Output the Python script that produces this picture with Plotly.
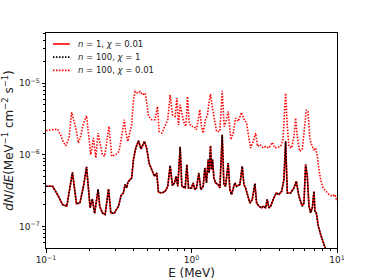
import plotly.graph_objects as go

# Energy (MeV) and dN/dE (in units of 1e-7 MeV^-1 cm^-2 s^-1) for lower curve
E_low = [0.100, 0.111, 0.120, 0.130, 0.139, 0.152, 0.162, 0.171, 0.181, 0.190,
         0.201, 0.208, 0.216, 0.228, 0.234, 0.244, 0.255, 0.269, 0.279, 0.294,
         0.315, 0.328, 0.340, 0.350, 0.359, 0.365, 0.378, 0.388, 0.399, 0.414,
         0.432, 0.450, 0.475, 0.493, 0.511, 0.533, 0.556, 0.577, 0.593, 0.625,
         0.659, 0.687, 0.713, 0.740, 0.764, 0.784, 0.805, 0.836, 0.858, 0.905,
         0.929, 0.954, 1.000, 1.027, 1.054, 1.082, 1.123, 1.159, 1.203, 1.235,
         1.268, 1.302, 1.323, 1.351, 1.373, 1.395, 1.425, 1.463, 1.526, 1.567,
         1.626, 1.669, 1.714, 1.788, 1.835, 1.884, 1.987, 2.040, 2.150, 2.232,
         2.292, 2.353, 2.455, 2.520, 2.615, 2.728, 2.801, 2.907, 3.032, 3.112,
         3.230, 3.316, 3.405, 3.496, 3.685, 3.824, 3.989, 4.161, 4.318, 4.435,
         4.554, 4.800, 5.060, 5.250, 5.476, 5.773, 5.927, 6.087, 6.250, 6.418,
         6.590, 6.766, 6.946, 7.058, 7.208, 7.440, 7.721, 8.012, 8.356, 9.0, 10.0]
V_low = [3.64, 3.64, 2.79, 2.02, 1.92, 5.70, 2.07, 2.13, 3.64, 6.80,
         1.82, 2.43, 1.52, 3.30, 1.92, 1.55, 1.47, 3.34, 1.55, 1.52,
         1.92, 2.70, 2.94, 3.85, 3.45, 4.14, 4.51, 4.76, 8.57, 12.45,
         15.7, 12.1, 15.4, 12.1, 7.69, 6.22, 5.02, 5.58, 3.01, 2.94,
         3.10, 3.64, 7.07, 3.72, 4.06, 5.02, 3.64, 12.9, 3.64, 3.45,
         7.30, 3.45, 3.45, 4.06, 3.27, 3.45, 5.58, 3.27, 3.64, 6.56,
         4.06, 8.57, 5.58, 13.4, 6.22, 8.57, 4.76, 4.06, 3.85, 3.45,
         19.1, 3.85, 3.64, 7.69, 3.27, 2.79, 4.06, 3.64, 3.85, 6.92,
         3.85, 3.45, 2.64, 2.13, 2.38, 3.97, 2.13, 1.92, 1.82, 1.92,
         1.82, 2.38, 1.82, 1.92, 2.51, 2.94, 2.79, 3.10, 4.51, 15.4,
         2.94, 2.94, 3.45, 4.28, 2.64, 1.92, 2.13, 7.30, 5.02, 1.92,
         1.55, 1.82, 3.10, 1.63, 1.55, 1.01, 0.774, 0.593, 0.479, 0.33, 0.22]

# Upper curve (n=100, chi=0.01)
E_up = [0.100, 0.102, 0.120, 0.126, 0.132, 0.137, 0.144, 0.150, 0.156, 0.162,
        0.167, 0.173, 0.181, 0.190, 0.198, 0.203, 0.212, 0.220, 0.228, 0.244,
        0.253, 0.271, 0.283, 0.302, 0.318, 0.332, 0.346, 0.353, 0.365, 0.378,
        0.388, 0.399, 0.410, 0.427, 0.444, 0.460, 0.480, 0.493, 0.506, 0.533,
        0.562, 0.584, 0.599, 0.625, 0.659, 0.687, 0.713, 0.740, 0.772, 0.793,
        0.814, 0.836, 0.881, 0.914, 0.939, 0.964, 1.000, 1.043, 1.082, 1.112,
        1.141, 1.172, 1.203, 1.248, 1.289, 1.316, 1.351, 1.388, 1.432, 1.486,
        1.567, 1.626, 1.678, 1.741, 1.788, 1.865, 1.935, 2.008, 2.095, 2.208,
        2.304, 2.390, 2.480, 2.547, 2.657, 2.757, 2.846, 2.953, 3.112, 3.230,
        3.405, 3.589, 3.745, 3.948, 4.097, 4.251, 4.342, 4.435, 4.554, 4.674,
        4.876, 5.060, 5.195, 5.333, 5.534, 5.773, 5.991, 6.152, 6.317, 6.519,
        6.766, 6.946, 7.132, 7.324, 7.517, 7.721, 8.012, 8.356, 8.810, 9.288,
        9.687, 10.0]
V_up = [21.9, 21.9, 22.9, 19.1, 14.9, 13.4, 17.2, 39.1, 29.3, 21.2,
        14.6, 18.1, 27.8, 35.1, 16.3, 10.05, 17.2, 9.04, 20.1, 10.05,
        9.53, 24.9, 9.53, 10.05, 11.2, 18.1, 30.9, 21.2, 15.4, 21.2,
        26.3, 58.6, 76.6, 72.6, 76.6, 68.8, 72.6, 52.7, 34.4, 30.9,
        30.9, 47.3, 21.2, 20.1, 24.9, 30.9, 68.8, 36.2, 34.4, 61.8,
        26.0, 50.0, 29.3, 24.9, 65.2, 27.8, 24.9, 24.9, 22.4, 30.9,
        42.5, 24.9, 20.1, 30.9, 36.2, 52.7, 70.3, 47.3, 32.6, 21.2,
        21.2, 78.2, 24.9, 30.9, 40.3, 16.3, 20.1, 32.6, 29.3, 39.1,
        30.9, 27.8, 17.2, 12.45, 15.4, 20.1, 13.1, 13.9, 12.45, 13.1,
        12.45, 14.9, 12.45, 12.9, 13.1, 16.3, 34.4, 72.6, 24.9, 13.1,
        12.45, 18.1, 32.6, 18.1, 11.2, 11.8, 24.9, 42.5, 40.3, 16.3,
        13.1, 11.8, 12.45, 9.53, 6.22, 4.51, 3.45, 3.10, 2.79, 2.64,
        2.79, 2.25]

UNIT = 1e-7
low_vals = [v * UNIT for v in V_low]
up_vals = [v * UNIT for v in V_up]

labels = ["<i>n</i> = 1, <i>χ</i> = 0.01",
          "<i>n</i> = 100, <i>χ</i> = 1",
          "<i>n</i> = 100, <i>χ</i> = 0.01"]
colors = ["red", "black", "red"]
dashes = ["solid", "1.5px,1.5px", "1.5px,1.5px"]

x_ticks = [0.1, 1, 10]
x_ticktext = ["10<sup>−1</sup>", "10<sup>0</sup>", "10<sup>1</sup>"]
y_ticks = [1e-7, 1e-6, 1e-5]
y_ticktext = ["10<sup>−7</sup>", "10<sup>−6</sup>", "10<sup>−5</sup>"]
x_minor = [m * d for d in (0.1, 1) for m in range(2, 10)]
y_minor = [m * d for d in (1e-8, 1e-7, 1e-6, 1e-5) for m in range(2, 10)]

fig = go.Figure()
fig.add_trace(go.Scatter(x=E_low, y=low_vals, mode="lines", name=labels[0],
                         line=dict(color=colors[0], width=1.6, dash=dashes[0])))
fig.add_trace(go.Scatter(x=E_low, y=low_vals, mode="lines", name=labels[1],
                         line=dict(color=colors[1], width=1.6, dash=dashes[1])))
fig.add_trace(go.Scatter(x=E_up, y=up_vals, mode="lines", name=labels[2],
                         line=dict(color=colors[2], width=1.6, dash=dashes[2])))

axis_common = dict(type="log", showgrid=False, zeroline=False, showline=True,
                   linecolor="black", linewidth=1, mirror=True, ticks="outside",
                   ticklen=3.5, tickwidth=0.8, tickcolor="black", automargin=False,
                   tickfont=dict(family="DejaVu Sans", size=9, color="#222"))

fig.update_xaxes(**axis_common, range=[-1, 1],
                 tickmode="array", tickvals=x_ticks, ticktext=x_ticktext,
                 minor=dict(ticks="outside", ticklen=2, tickwidth=0.6, tickcolor="black",
                            tickmode="array", tickvals=x_minor, showgrid=False),
                 title=dict(text="E (MeV)", font=dict(family="DejaVu Sans", size=12, color="#222"),
                            standoff=4))
fig.update_yaxes(**axis_common, range=[-7.30, -4.30],
                 tickmode="array", tickvals=y_ticks, ticktext=y_ticktext,
                 minor=dict(ticks="outside", ticklen=2, tickwidth=0.6, tickcolor="black",
                            tickmode="array", tickvals=y_minor, showgrid=False),
                 title=dict(text="<i>dN</i>/<i>dE</i>(MeV<sup>−1</sup> cm<sup>−2</sup> s<sup>−1</sup>)",
                            font=dict(family="DejaVu Sans", size=12, color="#222"),
                            standoff=6))

# Manual legend (compact like matplotlib)
leg_y = [0.949, 0.888, 0.826]
for i in range(3):
    fig.add_shape(type="line", xref="paper", yref="paper",
                  x0=0.024, x1=0.082, y0=leg_y[i], y1=leg_y[i],
                  line=dict(color=colors[i], width=1.6, dash=dashes[i]))
    fig.add_annotation(xref="paper", yref="paper", x=0.103, y=leg_y[i],
                       xanchor="left", yanchor="middle", showarrow=False,
                       text=labels[i],
                       font=dict(family="DejaVu Sans", size=8.5, color="#222"))

fig.update_layout(
    width=374, height=280, autosize=False,
    margin=dict(l=46, r=37, t=33, b=32),
    paper_bgcolor="white", plot_bgcolor="white",
    showlegend=False,
)

fig.write_html("out.html", config={"displayModeBar": False},
               post_script="document.body.style.margin='0px';document.body.style.overflow='hidden';")
